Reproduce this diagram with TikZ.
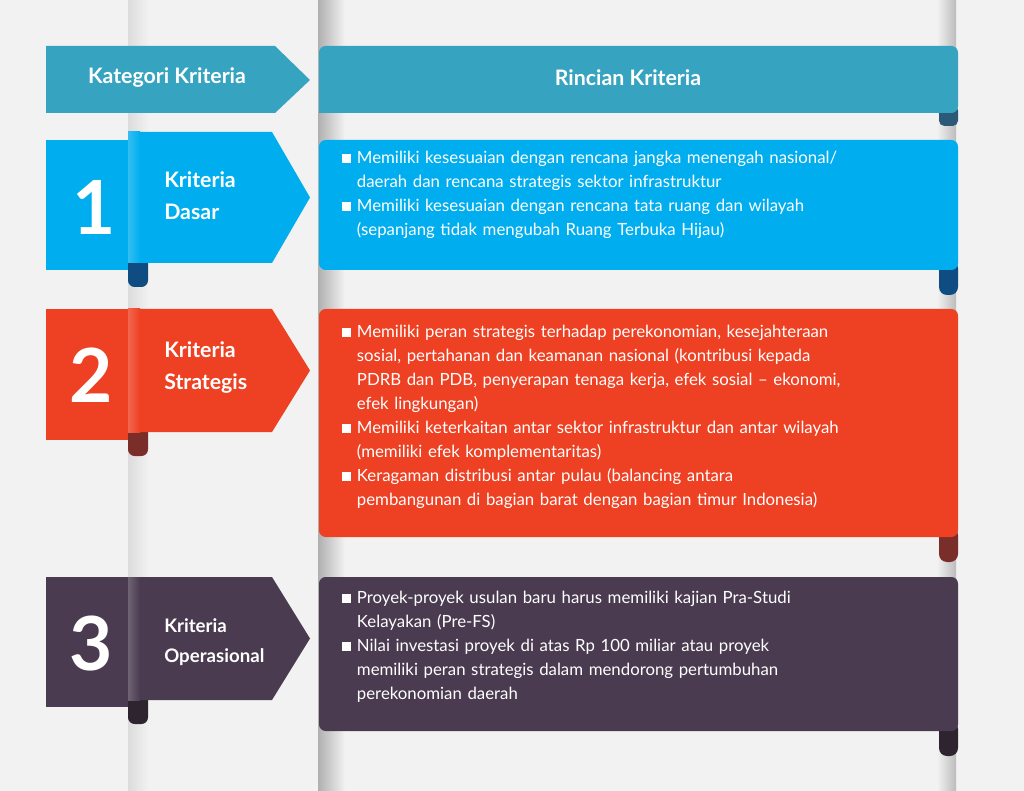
\documentclass[tikz,border=0pt]{standalone}
\usepackage{fontspec}
\setmainfont{Lato}
\definecolor{bg}{HTML}{F2F2F2}
\definecolor{hd}{HTML}{36A3C0}\definecolor{hdd}{HTML}{2A5A78}
\definecolor{bl}{HTML}{00AEEF}\definecolor{bld}{HTML}{0F4C81}
\definecolor{rd}{HTML}{EE4022}\definecolor{rdd}{HTML}{7A2E2A}
\definecolor{pu}{HTML}{4A3B50}\definecolor{pud}{HTML}{2E2430}
\definecolor{pil}{HTML}{DCDCDC}
\begin{document}
\begin{tikzpicture}[x=0.75pt,y=-0.75pt,
  body/.style={text=white,align=left,anchor=north west,font=\fontsize{12.6}{18}\selectfont,inner sep=0pt,text width=440pt},
  lab/.style={text=white,anchor=west,align=left,font=\bfseries\fontsize{16}{24}\selectfont,inner sep=0pt},
  num/.style={text=white,font=\bfseries\fontsize{56}{56}\selectfont,inner sep=0pt}]
\fill[bg] (0,0) rectangle (1024,791);
\useasboundingbox (0,0) rectangle (1024,791);
% pillars
\shade[left color=pil,right color=white!95!black] (128,0) rectangle (149,791);
\shade[left color=pil!80!black,right color=bg] (318,0) rectangle (345,791);
\shade[left color=bg,right color=pil!85!black] (937,0) rectangle (956,791);
% header
\node[coordinate] (h0) at (0,0) {};
\fill[hdd,rounded corners=4pt] (939,105) rectangle (958,126);
\fill[hd] (46,46) -- (275,46) -- (310,80) -- (275,113) -- (46,113) -- cycle;
\fill[hd,rounded corners=5pt] (319,113) -- (319,46) -- (958,46) -- (958,113) -- cycle;
\fill[hd] (319,100) rectangle (400,113);
\node[lab,anchor=center] (hk) at (167,78) {Kategori Kriteria};
\node[lab,anchor=center] (hr) at (628,78) {Rincian Kriteria};
% macro per row
\newcommand\rowdraw[8]{% #1 col #2 dark #3 top #4 sqbot #5 flagtop #6 flagbot #7 boxbot
  \fill[#2,rounded corners=5pt] (128,#6-10) rectangle (148,#6+24);
  \fill[#2,rounded corners=6pt] (939,#7-10) rectangle (958,#7+25);
  \fill[#1] (46,#3) rectangle (128,#4);
  \fill[#1] (128,#5) -- (272,#5) -- (310,{(#5+#6)/2}) -- (272,#6) -- (128,#6) -- cycle;
  \shade[left color=#1!80!white,right color=#1] (128,#5) rectangle (140,#6);
  \fill[#1,rounded corners=5pt] (319,#7) -- (319,#3) -- (958,#3) -- (958,#7) -- cycle;
}
\rowdraw{bl}{bld}{140}{270}{132}{263}{270}{}
\rowdraw{rd}{rdd}{309}{440}{309}{432}{537}{}
\rowdraw{pu}{pud}{577}{707}{577}{700}{731}{}
\node[num] (n1) at (94,207) {1};
\node[num] (n2) at (91,375) {2};
\node[num] (n3) at (91,644) {3};
\node[lab] (k1) at (164,196) {Kriteria\\Dasar};
\node[lab] (k2) at (164,368) {Kriteria\\Strategis};
\node[lab,font=\bfseries\fontsize{14}{22}\selectfont] (k3) at (164,642) {Kriteria\\Operasional};
\newcommand\bu{\makebox[11pt][l]{\rule[0.5pt]{6.5pt}{6.5pt}}}
\newcommand\ind{\hspace*{11pt}}
\node[body] (b1) at (342,151) {\bu Memiliki kesesuaian dengan rencana jangka menengah nasional/\\\ind daerah dan rencana strategis sektor infrastruktur\\\bu Memiliki kesesuaian dengan rencana tata ruang dan wilayah\\\ind (sepanjang tidak mengubah Ruang Terbuka Hijau)};
\node[body] (b2) at (342,325) {\bu Memiliki peran strategis terhadap perekonomian, kesejahteraan\\\ind sosial, pertahanan dan keamanan nasional (kontribusi kepada\\\ind PDRB dan PDB, penyerapan tenaga kerja, efek sosial -- ekonomi,\\\ind efek lingkungan)\\\bu Memiliki keterkaitan antar sektor infrastruktur dan antar wilayah\\\ind (memiliki efek komplementaritas)\\\bu Keragaman distribusi antar pulau (balancing antara\\\ind pembangunan di bagian barat dengan bagian timur Indonesia)};
\node[body] (b3) at (342,591) {\bu Proyek-proyek usulan baru harus memiliki kajian Pra-Studi\\\ind Kelayakan (Pre-FS)\\\bu Nilai investasi proyek di atas Rp 100 miliar atau proyek\\\ind memiliki peran strategis dalam mendorong pertumbuhan\\\ind perekonomian daerah};
\end{tikzpicture}
\end{document}
